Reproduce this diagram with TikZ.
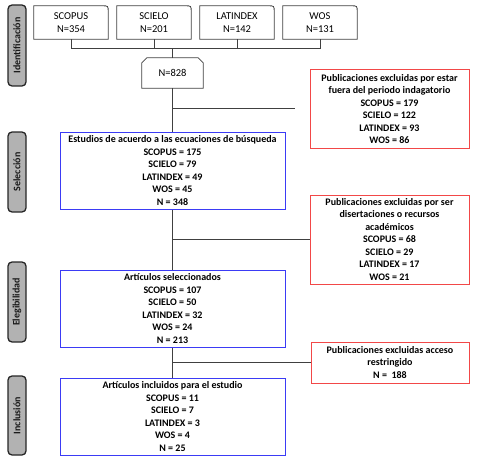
\documentclass[tikz,border=0pt]{standalone}
\usepackage{fontspec}
\setmainfont{Carlito}
\definecolor{conn}{HTML}{404040}
\definecolor{bbox}{HTML}{3B3BF5}
\definecolor{rbox}{HTML}{F24848}
\definecolor{lblfill}{HTML}{B2B2B2}
\definecolor{lbltext}{HTML}{1A1A1A}
\begin{document}
\begin{tikzpicture}[x=1pt,y=-1pt,
  srcbox/.style={draw=none,minimum width=74pt,minimum height=33pt,inner sep=0pt,align=center,font=\fontsize{10.5}{13.5}\selectfont},
  topbox/.style={draw=none,minimum width=61pt,minimum height=30pt,inner sep=0pt,align=center,font=\fontsize{10.5}{13.5}\selectfont},
  bluebox/.style={draw=bbox,line width=1pt,minimum width=225pt,inner sep=0pt,align=center,font=\fontsize{10}{12.5}\selectfont\bfseries},
  redbox/.style={draw=rbox,line width=1pt,minimum width=159pt,inner sep=0pt,align=center,font=\fontsize{10}{12.5}\selectfont\bfseries},
  phase/.style={draw=black!85,fill=lblfill,line width=1.3pt,rounded corners=4pt,minimum width=18pt,inner sep=0pt,text=lbltext,font=\fontsize{10}{11}\selectfont\bfseries},
  outline/.style={draw=conn,line width=0.8pt},
  link/.style={draw=conn,line width=1pt}]
\useasboundingbox (0,0) rectangle (477,460);

% source boxes
\foreach \nm/\cx/\txt in {s1/71/{SCOPUS\\N=354},s2/154/{SCIELO\\N=201},s3/237/{LATINDEX\\N=142},s4/320/{WOS\\N=131}}{
  \node[srcbox] (\nm) at (\cx,22.5) {\txt};
  \draw[outline] (\nm.north east) ++(-6pt,0) coordinate (\nm-a);
  \draw[outline] (\nm-a) -- (\nm.north west) -- (\nm.south west) -- (\nm.south east) -- ([yshift=-6pt]\nm.north east) .. controls (\nm.north east) .. (\nm-a);
}

% total
\node[topbox] (n) at (172.5,73) {N=828};
\draw[outline] ([xshift=5pt]n.north west) -- ([xshift=-5pt]n.north east) -- ([yshift=-5pt]n.north east) -- (n.south east) -- (n.south west) -- ([yshift=-5pt]n.north west) -- cycle;

% blue boxes
\node[bluebox,minimum height=77pt] (b1) at (172.5,170.5) {Estudios de acuerdo a las ecuaciones de búsqueda\\SCOPUS = 175\\SCIELO = 79\\LATINDEX = 49\\WOS = 45\\N = 348};
\node[bluebox,minimum height=77pt] (b2) at (172.5,308.5) {Artículos seleccionados\\SCOPUS = 107\\SCIELO = 50\\LATINDEX = 32\\WOS = 24\\N = 213};
\node[bluebox,minimum height=77pt] (b3) at (172.5,416.5) {Artículos incluidos para el estudio\\SCOPUS = 11\\SCIELO = 7\\LATINDEX = 3\\WOS = 4\\N = 25};

% red boxes
\node[redbox,minimum height=78pt] (r1) at (389.5,109) {Publicaciones excluidas por estar\\fuera del periodo indagatorio\\SCOPUS = 179\\SCIELO = 122\\LATINDEX = 93\\WOS = 86};
\node[redbox,minimum height=89pt] (r2) at (389.5,239.5) {Publicaciones excluidas por ser\\disertaciones o recursos\\académicos\\SCOPUS = 68\\SCIELO = 29\\LATINDEX = 17\\WOS = 21};
\node[redbox,minimum height=41pt,minimum width=158pt] (r3) at (390,362.5) {Publicaciones excluidas acceso\\restringido\\N =\ \ 188};

% phase labels
\node[phase,minimum height=81pt] (p1) at (17,45.5) {\rotatebox{90}{Identificación}};
\node[phase,minimum height=80pt] (p2) at (17,172) {\rotatebox{90}{Selección}};
\node[phase,minimum height=80pt] (p3) at (17,302) {\rotatebox{90}{Elegibilidad}};
\node[phase,minimum height=79pt] (p4) at (17,415.5) {\rotatebox{90}{Inclusión}};

% connectors
\coordinate (j) at (172.5,49);
\draw[link] (s1.south) -- (s1.south |- j) -- (s4.south |- j) -- (s4.south);
\draw[link] (s2.south) -- (s2.south |- j);
\draw[link] (s3.south) -- (s3.south |- j);
\draw[link] (j) -- (n.north);
\draw[link] (n.south) -- (b1.north);
\coordinate (e1) at ([xshift=-15pt]r1.west);
\draw[link] (n.south |- e1) -- (e1);
\draw[link] (b1.south) -- (b2.north);
\draw[link] (b1.south |- r2.west) -- (r2.west);
\draw[link] (b2.south) -- (b3.north);
\draw[link] (b2.south |- r3.west) -- (r3.west);
\end{tikzpicture}
\end{document}
